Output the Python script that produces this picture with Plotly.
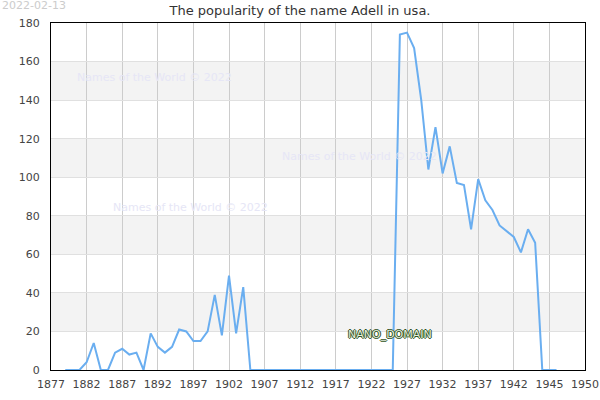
import plotly.graph_objects as go

years = list(range(1879, 1949))
counts = [0, 0, 0, 4, 14, 0, 0, 9, 11, 8, 9, 0, 19, 12, 9, 12, 21, 20, 15, 15,
          20, 39, 18, 49, 19, 43,
          0, 0, 0, 0, 0, 0, 0, 0, 0, 0, 0, 0, 0, 0, 0, 0, 0, 0, 0, 0, 0,
          174, 175, 167, 140, 104, 126, 102, 116, 97, 96, 73, 99, 88, 83, 75,
          72, 69, 61, 73, 66, 0, 0, 0]

x_tick_vals = [1877, 1882, 1887, 1892, 1897, 1902, 1907, 1912, 1917, 1922,
               1927, 1932, 1937, 1942, 1947, 1952]
x_tick_text = ["1877", "1882", "1887", "1892", "1897", "1902", "1907", "1912",
               "1917", "1922", "1927", "1932", "1937", "1942", "1945", "1950"]
y_tick_vals = [0, 20, 40, 60, 80, 100, 120, 140, 160, 180]
bands = [(20, 40), (60, 80), (100, 120), (140, 160)]

title_text = "The popularity of the name Adell in usa."
date_text = "2022-02-13"
watermark = "Names of the World © 2022"

font = "DejaVu Sans"

fig = go.Figure()
fig.add_trace(go.Scatter(x=years, y=counts, mode="lines",
                         line=dict(color="#6aaef0", width=2),
                         hoverinfo="x+y"))

for lo, hi in bands:
    fig.add_shape(type="rect", xref="paper", yref="y", x0=0, x1=1, y0=lo, y1=hi,
                  fillcolor="#f3f3f3", line=dict(width=0), layer="below")

wm_font = dict(family=font, size=11, color="#e6e6f6")
annotations = [
    dict(text=date_text, xref="paper", yref="paper", x=-0.0955, y=1.049,
         xanchor="left", yanchor="middle", showarrow=False,
         font=dict(family=font, size=11, color="#cccccc")),
    dict(text=watermark, xref="paper", yref="paper", x=0.1929, y=0.8415,
         xanchor="center", yanchor="middle", showarrow=False, font=wm_font),
    dict(text=watermark, xref="paper", yref="paper", x=0.2603, y=0.4669,
         xanchor="center", yanchor="middle", showarrow=False, font=wm_font),
    dict(text=watermark, xref="paper", yref="paper", x=0.5777, y=0.6167,
         xanchor="center", yanchor="middle", showarrow=False, font=wm_font),
    dict(text="NANO_DOMAIN", xref="paper", yref="paper", x=0.6348, y=0.1037,
         xanchor="center", yanchor="middle", showarrow=False,
         font=dict(family=font, size=11, color="#e4eedc",
                   shadow="1px 0 0 #2f5224, -1px 0 0 #2f5224, 0 1px 0 #2f5224, 0 -1px 0 #2f5224")),
]

fig.update_layout(
    width=600, height=400,
    margin=dict(l=51, r=15, t=23, b=30),
    paper_bgcolor="white", plot_bgcolor="white",
    showlegend=False,
    title=dict(text=title_text, x=0.5, xanchor="center", y=0.975,
               yanchor="middle", yref="container",
               font=dict(family=font, size=13, color="#333333")),
    annotations=annotations,
    font=dict(family=font, size=11, color="#444444"),
)

fig.update_xaxes(range=[1877, 1952], tickvals=x_tick_vals, ticktext=x_tick_text,
                 showgrid=True, gridcolor="#cccccc", gridwidth=1, automargin=False,
                 showline=True, linecolor="black", linewidth=1, mirror=True,
                 ticks="outside", ticklen=4, tickcolor="rgba(0,0,0,0)",
                 zeroline=False, tickfont=dict(family=font, size=11, color="#444444"))
fig.update_yaxes(range=[0, 180], tickvals=y_tick_vals, automargin=False,
                 showgrid=True, gridcolor="#e0e0e0", gridwidth=1,
                 showline=True, linecolor="black", linewidth=1, mirror=True,
                 ticks="outside", ticklen=8, tickcolor="rgba(0,0,0,0)",
                 zeroline=False, tickfont=dict(family=font, size=11, color="#444444"))

fig.write_html("out.html")
